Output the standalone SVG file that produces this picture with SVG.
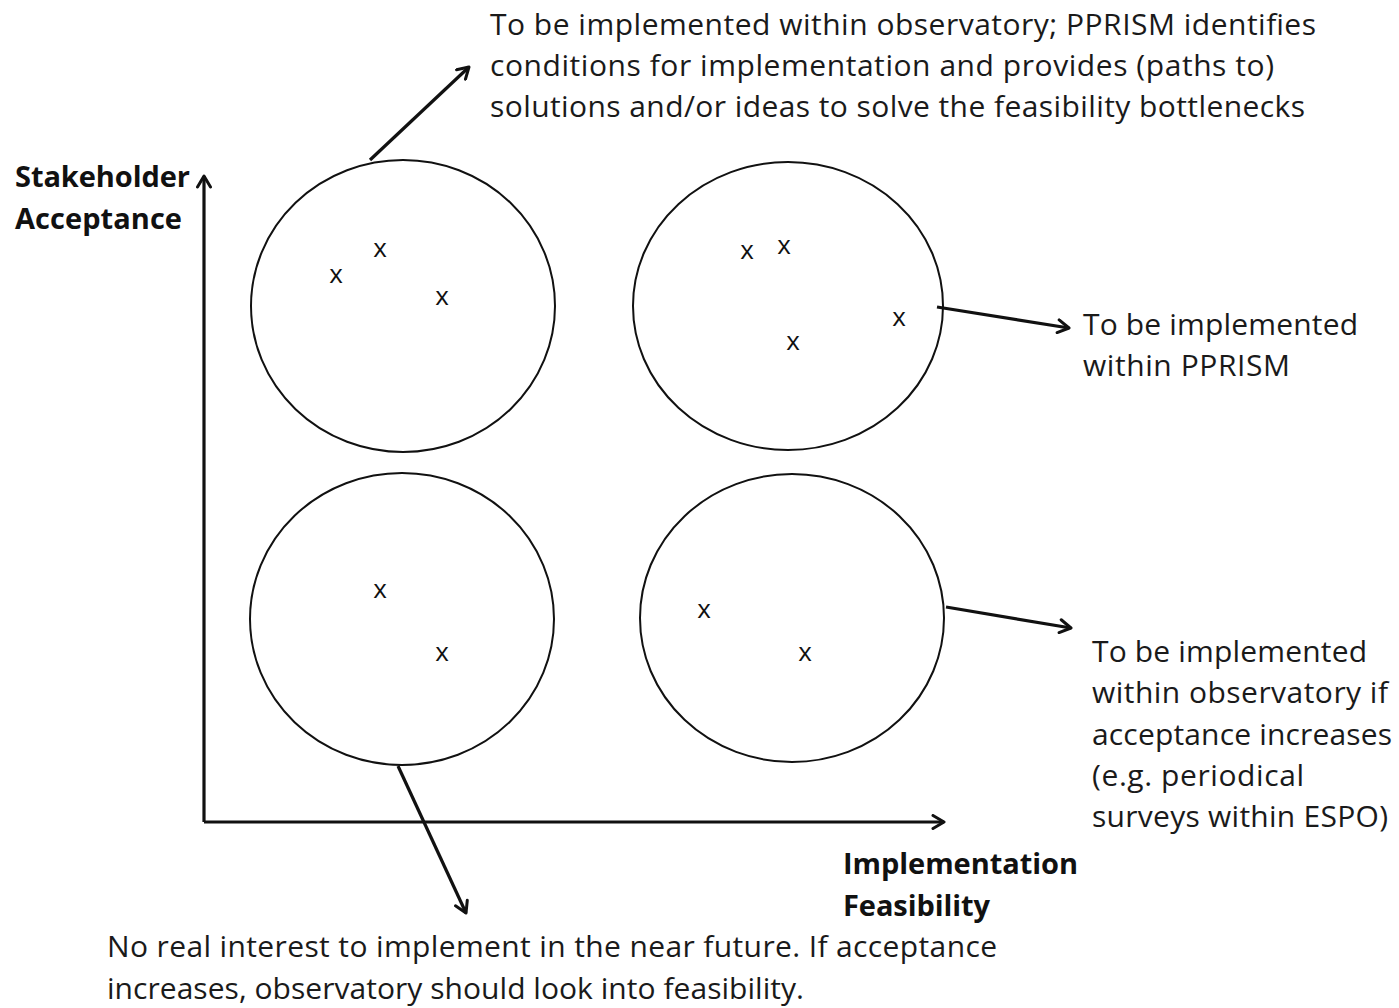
<svg xmlns="http://www.w3.org/2000/svg" width="1399" height="1008" viewBox="0 0 1399 1008">
  <style>
    .lbl { font-family: "Open Sans", "Noto Sans", "Liberation Sans", sans-serif; font-size: 30px; fill: #1a1a1a; }
    .axis-lbl { font-family: "Open Sans", "Noto Sans", "Liberation Sans", sans-serif; font-size: 29px; font-weight: bold; fill: #111; }
    .mark { font-family: "Open Sans", "Noto Sans", "Liberation Sans", sans-serif; font-size: 26px; fill: #111; text-anchor: middle; }
    .cluster { fill: #fff; stroke: #111; stroke-width: 2; }
    .line { stroke: #111; stroke-width: 3.2; fill: none; }
  </style>
  <defs>
    <marker id="open-arrow" viewBox="0 0 16 16" refX="14" refY="8" markerWidth="16" markerHeight="16" markerUnits="userSpaceOnUse" orient="auto">
      <path d="M3,1.5 L14,8 L3,14.5" fill="none" stroke="#111" stroke-width="3" stroke-linecap="round" stroke-linejoin="round"/>
    </marker>
  </defs>
  <rect width="1399" height="1008" fill="#fff"/>

  <!-- quadrant clusters -->
  <g id="cluster-top-left">
    <ellipse class="cluster" cx="403" cy="306" rx="152" ry="146"/>
    <text class="mark" x="336" y="283">x</text>
    <text class="mark" x="380" y="257">x</text>
    <text class="mark" x="442" y="305">x</text>
  </g>
  <g id="cluster-top-right">
    <ellipse class="cluster" cx="788" cy="306" rx="155" ry="144"/>
    <text class="mark" x="747" y="259">x</text>
    <text class="mark" x="784" y="254">x</text>
    <text class="mark" x="793" y="350">x</text>
    <text class="mark" x="899" y="326">x</text>
  </g>
  <g id="cluster-bottom-left">
    <ellipse class="cluster" cx="402" cy="619" rx="152" ry="146"/>
    <text class="mark" x="380" y="598">x</text>
    <text class="mark" x="442" y="661">x</text>
  </g>
  <g id="cluster-bottom-right">
    <ellipse class="cluster" cx="792" cy="618" rx="152" ry="144"/>
    <text class="mark" x="704" y="618">x</text>
    <text class="mark" x="805" y="661">x</text>
  </g>

  <!-- axes and pointers -->
  <g id="connectors">
    <path class="line" d="M204,822 L204,176" marker-end="url(#open-arrow)"/>
    <path class="line" d="M204,822 L944,822" marker-end="url(#open-arrow)"/>
    <path class="line" d="M370,160 L469,67" marker-end="url(#open-arrow)"/>
    <path class="line" d="M937,307 L1069,328" marker-end="url(#open-arrow)"/>
    <path class="line" d="M946,607 L1071,628" marker-end="url(#open-arrow)"/>
    <path class="line" d="M398,766 L466,913" marker-end="url(#open-arrow)"/>
  </g>

  <!-- axis titles -->
  <g id="axis-y-label">
    <text class="axis-lbl" x="15" y="187" textLength="175">Stakeholder</text>
    <text class="axis-lbl" x="15" y="229" textLength="167">Acceptance</text>
  </g>
  <g id="axis-x-label">
    <text class="axis-lbl" x="843" y="874" textLength="235">Implementation</text>
    <text class="axis-lbl" x="843" y="916" textLength="147">Feasibility</text>
  </g>

  <!-- outcome notes -->
  <g id="note-top">
    <text class="lbl" x="490" y="35" textLength="826">To be implemented within observatory; PPRISM identifies</text>
    <text class="lbl" x="490" y="76" textLength="784">conditions for implementation and provides (paths to)</text>
    <text class="lbl" x="490" y="117" textLength="815">solutions and/or ideas to solve the feasibility bottlenecks</text>
  </g>
  <g id="note-right">
    <text class="lbl" x="1083" y="335" textLength="275">To be implemented</text>
    <text class="lbl" x="1083" y="376" textLength="207">within PPRISM</text>
  </g>
  <g id="note-lower-right">
    <text class="lbl" x="1092" y="662" textLength="275">To be implemented</text>
    <text class="lbl" x="1092" y="703" textLength="296">within observatory if</text>
    <text class="lbl" x="1092" y="745" textLength="300">acceptance increases</text>
    <text class="lbl" x="1092" y="786" textLength="212">(e.g. periodical</text>
    <text class="lbl" x="1092" y="827" textLength="296">surveys within ESPO)</text>
  </g>
  <g id="note-bottom">
    <text class="lbl" x="107" y="957" textLength="890">No real interest to implement in the near future. If acceptance</text>
    <text class="lbl" x="107" y="999" textLength="697">increases, observatory should look into feasibility.</text>
  </g>
</svg>
